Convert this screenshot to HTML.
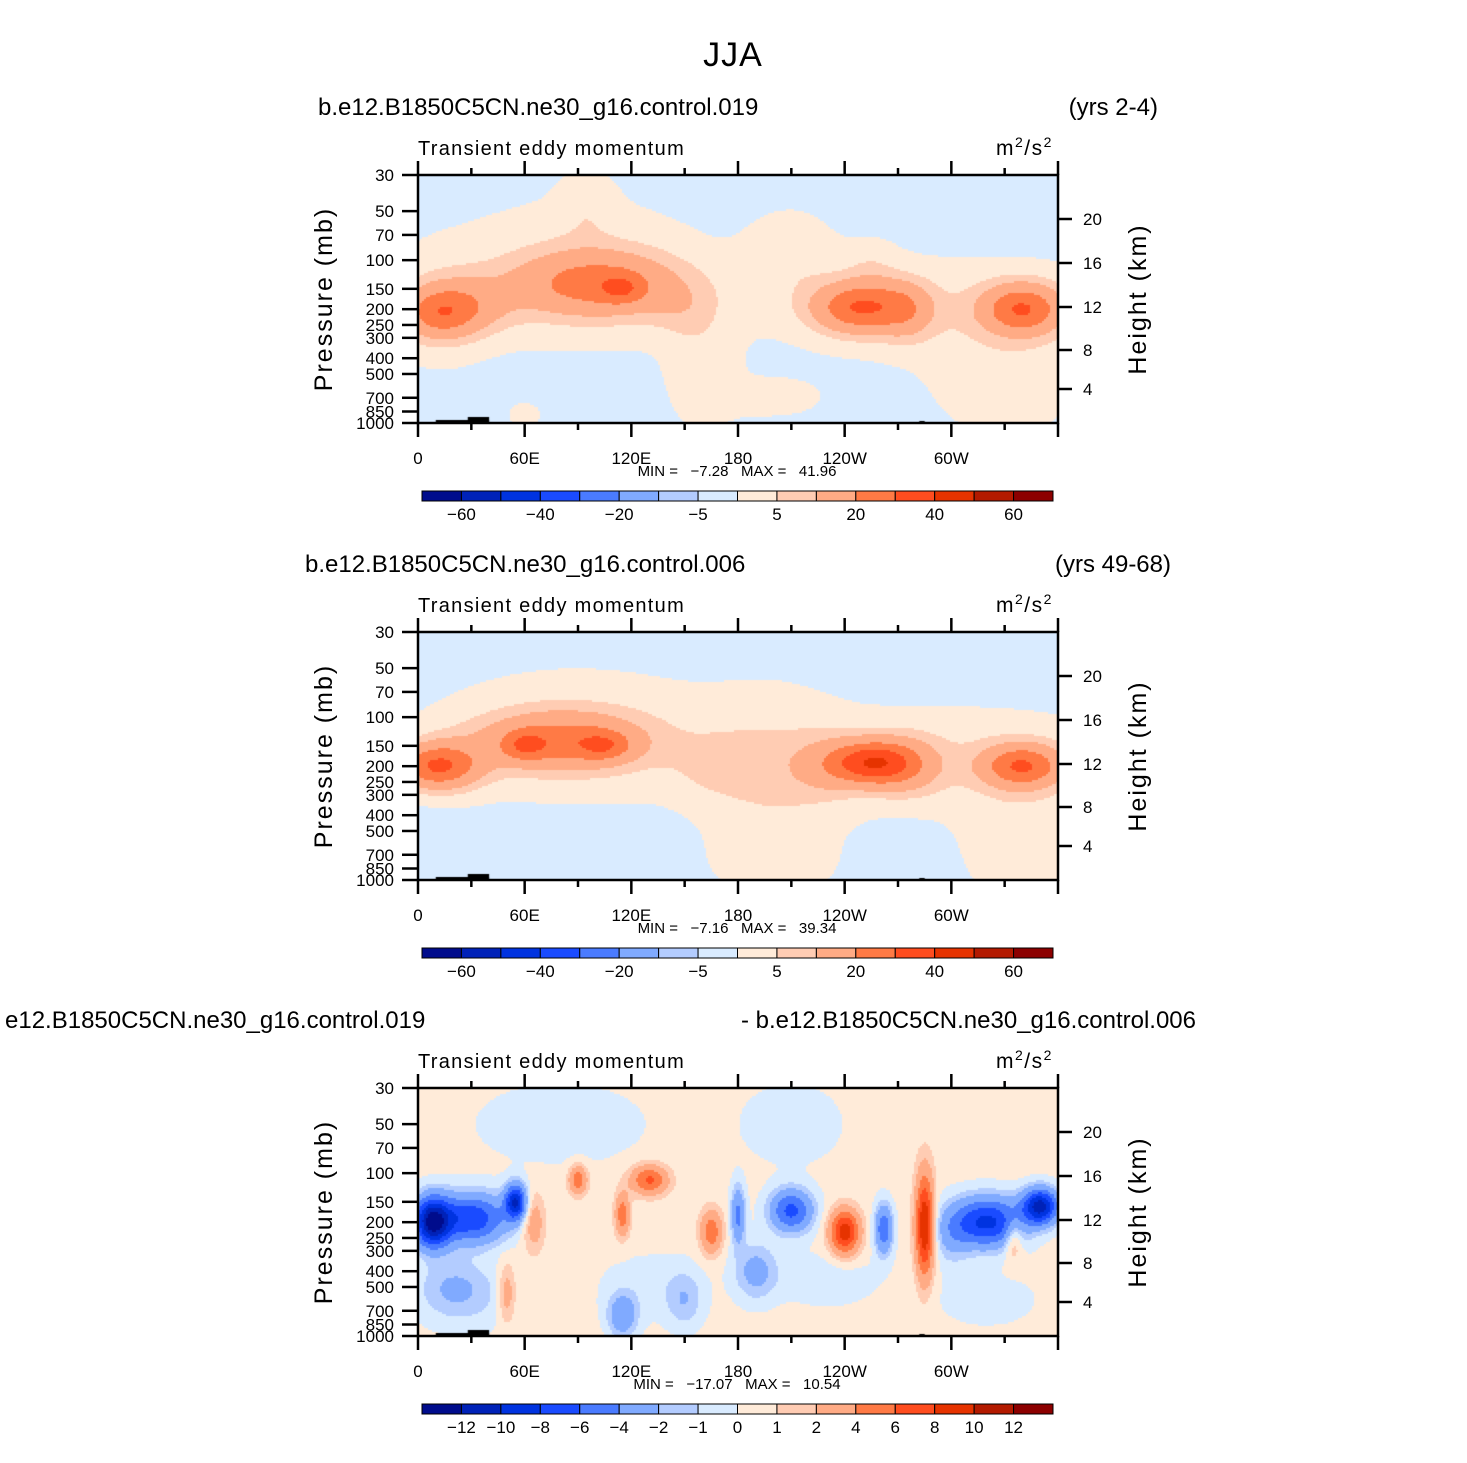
<!DOCTYPE html>
<html><head><meta charset="utf-8">
<style>
body{margin:0;background:#fff;}
#wrap{position:relative;width:1467px;height:1463px;overflow:hidden;font-family:"Liberation Sans",sans-serif;}
canvas{position:absolute;}
svg{position:absolute;left:0;top:0;}
text{white-space:pre;}
</style></head><body>
<div id="wrap">
<canvas id="c0" width="640" height="248" style="left:418px;top:175px"></canvas>
<canvas id="c1" width="640" height="248" style="left:418px;top:632px"></canvas>
<canvas id="c2" width="640" height="248" style="left:418px;top:1088px"></canvas>
<svg id="s" width="1467" height="1463"></svg>
</div>
<script>
// ---- data ----
const colors = ["#000c8c","#0022b8","#0033e0","#1a4bff","#4a7bff","#80aaff","#b3ccff","#d9ebff","#ffebd9","#ffccb3","#ffab85","#ff7a45","#ff4d1f","#e63300","#b31a00","#8c0000"];
const levelsAbs = [-60,-50,-40,-30,-20,-10,-5,0,5,10,20,30,40,50,60];
const levelsDiff = [-12,-10,-8,-6,-4,-2,-1,0,1,2,4,6,8,10,12];
const cbLabelsAbs = ["-60","","-40","","-20","","-5","","5","","20","","40","","60"];
const cbLabelsDiff = ["-12","-10","-8","-6","-4","-2","-1","0","1","2","4","6","8","10","12"];
const pTicks = [30,50,70,100,150,200,250,300,400,500,700,850,1000];
const zTicks = [20,16,12,8,4];
const zOffsets = [44,88,132,175,214];
const lonTicks = [0,60,120,180,240,300];
const lonLabels = ["0","60E","120E","180","120W","60W"];
// blobs: lon, pressure(mb), amplitude, lon-width(deg), lnp-width
const base = [-2,-2,0.4];
const b1Lon = [90,10,210,255,300,330,160,200,12,100,115,248,275,340,30,150,60,95];
const b1P   = [120,200,90,110,200,600,500,700,210,140,150,195,200,200,190,200,900,45];
const b1A   = [6,5,5,4,6,5,5,4,20,22,12,28,12,28,10,5,4,4];
const b1SL  = [70,30,25,15,100,40,20,30,20,45,12,25,15,22,25,20,10,15];
const b1SP  = [1.0,0.8,0.6,0.4,0.7,0.7,0.8,0.3,0.35,0.45,0.2,0.35,0.4,0.35,0.4,0.4,0.2,0.5];
const b2Lon = [90,200,300,340,200,10,60,105,80,255,275,340,15,170,230];
const b2P   = [130,250,180,600,800,200,150,150,140,190,200,200,200,200,200];
const b2A   = [6,6,6,5,4,24,14,14,22,32,12,28,8,5,8];
const b2SL  = [80,40,100,35,30,22,12,15,45,22,20,22,25,25,20];
const b2SP  = [0.9,1.2,0.7,0.9,0.4,0.3,0.2,0.2,0.4,0.3,0.4,0.3,0.4,0.4,0.4];
const b3Lon = [8,30,55,180,210,262,320,350,240,285,165,90,130,115,335,50,65,115,190,20,150,300,80,210,30,130,320,230];
const b3P   = [200,190,150,180,170,220,200,160,230,210,230,110,110,180,250,550,200,750,400,500,600,250,50,50,600,500,600,450];
const b3A   = [-12,-8,-10,-5,-7,-6,-9,-11,9,10,5,5,6,5,3,3,3,-4,-3,-2,-2,-2,-1,-1,-1,-0.9,-0.9,-1];
const b3SL  = [10,20,6,4,12,5,20,10,8,5,6,5,10,4,5,5,6,8,12,20,10,10,50,30,30,30,30,30];
const b3SP  = [0.35,0.35,0.25,0.4,0.3,0.35,0.35,0.25,0.3,0.7,0.3,0.2,0.2,0.3,0.3,0.4,0.4,0.3,0.4,0.4,0.4,0.4,0.6,0.6,0.5,0.5,0.4,0.4];
const minVals = ["-7.28","-7.16","-17.07"];
const maxVals = ["41.96","39.34","10.54"];

const W=640,H=248,L0=418;
const lnR=Math.log(1000/30);
const yOfP=p=>H*Math.log(p/30)/lnR;
const xOfLon=l=>W*l/360;
function drawField(id,bl,bp,ba,bsl,bsp,bas,levels){
  const ctx=document.getElementById(id).getContext('2d');
  const cs=2;
  for(let px=0;px<W;px+=cs){
    const lon=(px+cs/2)/W*360;
    for(let py=0;py<H;py+=cs){
      const lp=Math.log(30)+(py+cs/2)/H*lnR;
      let v=bas;
      for(let i=0;i<bl.length;i++){
        const dl=(lon-bl[i])/bsl[i], dp=(lp-Math.log(bp[i]))/bsp[i];
        v+=ba[i]*Math.exp(-dl*dl-dp*dp);
      }
      let k=0;while(k<levels.length&&v>=levels[k])k++;
      ctx.fillStyle=colors[k];
      ctx.fillRect(px,py,cs,cs);
    }
  }
  ctx.fillStyle="#000";
  ctx.fillRect(xOfLon(10),H-3,xOfLon(30),3);
  ctx.fillRect(xOfLon(28),H-6,xOfLon(12),6);
  ctx.fillRect(xOfLon(282),H-2,xOfLon(3),2);
}
drawField('c0',b1Lon,b1P,b1A,b1SL,b1SP,base[0],levelsAbs);
drawField('c1',b2Lon,b2P,b2A,b2SL,b2SP,base[1],levelsAbs);
drawField('c2',b3Lon,b3P,b3A,b3SL,b3SP,base[2],levelsDiff);

const svg=document.getElementById('s');
const NS="http://www.w3.org/2000/svg";
function el(tag,attrs,parent){const e=document.createElementNS(NS,tag);for(const k in attrs)e.setAttribute(k,attrs[k]);(parent||svg).appendChild(e);return e;}
function txt(s,x,y,size,anchor,parent,extra){const t=el('text',Object.assign({x:x,y:y,'font-size':size,'text-anchor':anchor||'start',fill:'#000','font-family':'Liberation Sans, sans-serif'},extra||{}),parent);t.textContent=s;return t;}

const t0=txt("JJA",733,66,34,"middle",null,{'letter-spacing':'1'});



const tops=[175,632,1088];
const cbTops=[491,948,1404];
const leftT=[["b.e12.B1850C5CN.ne30_g16.control.019",318],["b.e12.B1850C5CN.ne30_g16.control.006",305],["e12.B1850C5CN.ne30_g16.control.019",5]];
const rightT=[["(yrs 2-4)",1158],["(yrs 49-68)",1171],["- b.e12.B1850C5CN.ne30_g16.control.006",1196]];
for(let i=0;i<3;i++){
  const T=tops[i];
  const g=el('g',{});
  
  
  const a=txt(leftT[i][0],leftT[i][1],T-60,24,"start",g);
  
  
  const b=txt(rightT[i][0],rightT[i][1],T-60,24,"end",g);
  
  
  const c=txt("Transient eddy momentum",418,T-20,20,"start",g,{'letter-spacing':'1.3'});
  
  
  const u=txt("m",996,T-20,21,"start",g,{'letter-spacing':'1.5'});
  
  
  const s1=el('tspan',{'font-size':14,dy:-8},u);s1.textContent="2";
  const s2=el('tspan',{'font-size':21,dy:8},u);s2.textContent="/s";
  const s3=el('tspan',{'font-size':14,dy:-8},u);s3.textContent="2";
  const fr=el('rect',{x:L0,y:T,width:W,height:H,fill:'none',stroke:'#000','stroke-width':2.5},g);
  
  
  for(let d=0;d<=360;d+=30){
    const x=L0+xOfLon(d);const maj=d%60===0;
    el('line',{x1:x,x2:x,y1:T,y2:T-(maj?14:7),stroke:'#000','stroke-width':2.5},g);
    el('line',{x1:x,x2:x,y1:T+H,y2:T+H+(maj?14:7),stroke:'#000','stroke-width':2.5},g);
  }
  lonTicks.forEach((d,j)=>{const lt=txt(lonLabels[j],L0+xOfLon(d),T+H+41,17,"middle",g);
    
    });
  pTicks.forEach(p=>{const y=T+yOfP(p);
    el('line',{x1:L0-16,x2:L0,y1:y,y2:y,stroke:'#000','stroke-width':2.5},g);
    const pt=txt(String(p),394,y+6,17,"end",g);
    
    });
  zTicks.forEach((z,j)=>{const y=T+zOffsets[j];
    el('line',{x1:L0+W,x2:L0+W+14,y1:y,y2:y,stroke:'#000','stroke-width':2.5},g);
    const zt=txt(String(z),1083,y+6,17,"start",g);
    
    });
  const yl=txt("Pressure (mb)",0,0,25,"middle",g,{transform:`translate(332,${T+124}) rotate(-90)`,'letter-spacing':'2'});
  
  
  const hl=txt("Height (km)",0,0,25,"middle",g,{transform:`translate(1146,${T+124}) rotate(-90)`,'letter-spacing':'2'});
  
  
  const mm=txt(`MIN =   ${minVals[i].replace('-','\u2212')}   MAX =   ${maxVals[i]}`,737,T+301,15,"middle",g);
  
  
  const CB=cbTops[i];const bw=631/16;
  const cb=el('g',{},g);
  
  
  colors.forEach((c,k)=>{el('rect',{x:422+k*bw,y:CB,width:bw,height:10,fill:c,stroke:'#000','stroke-width':1},cb);});
  const labs=i<2?cbLabelsAbs:cbLabelsDiff;
  labs.forEach((s,k)=>{if(!s)return;const ct=txt(s.replace('-','\u2212'),422+(k+1)*bw,CB+29,17,"middle",cb);
    
    });
}
</script>
</body></html>
